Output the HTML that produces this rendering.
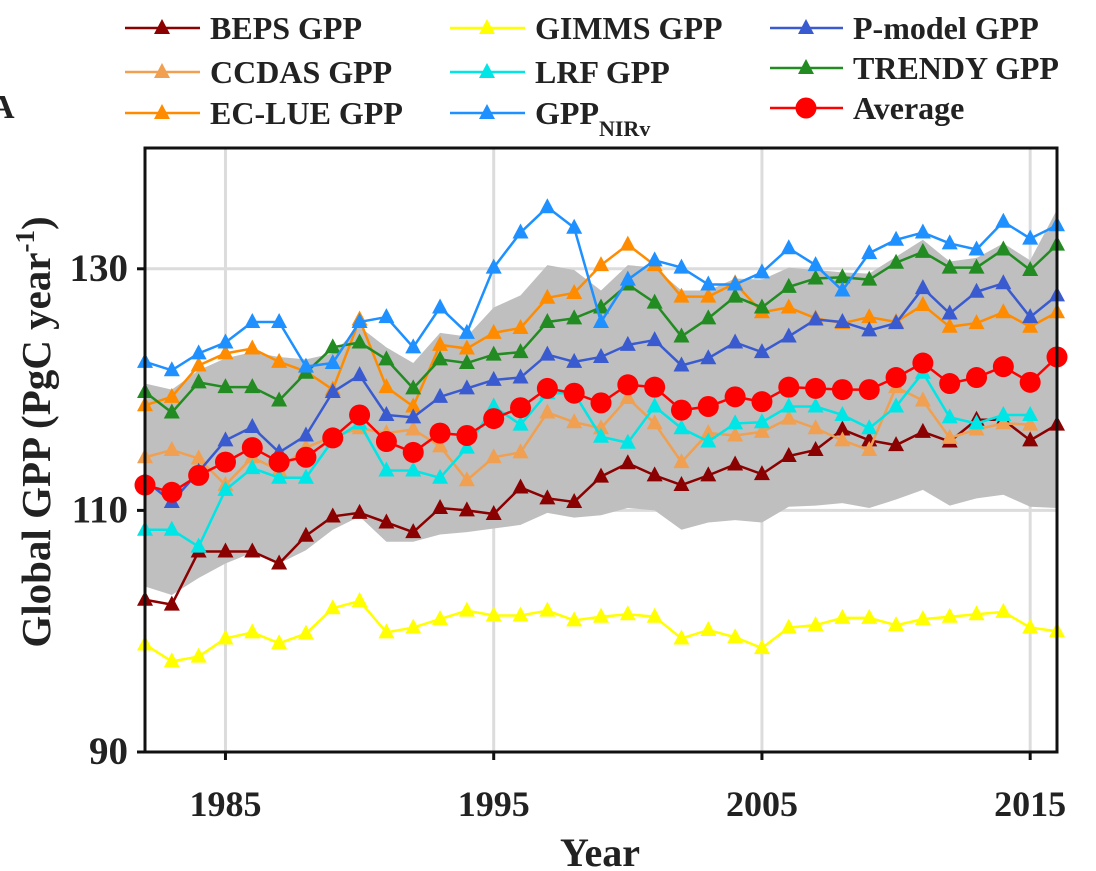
<!DOCTYPE html>
<html><head><meta charset="utf-8"><style>
html,body{margin:0;padding:0;background:#fff;width:1096px;height:871px;overflow:hidden}
svg text{font-family:"Liberation Serif",serif;font-weight:bold;fill:#222}
</style></head><body>
<svg id="chart" width="1096" height="871" xmlns="http://www.w3.org/2000/svg"></svg>
<script>
const years=[];for(let y=1982;y<=2016;y++)years.push(y);
const bandUpper=[120.5,120.0,121.6,122.6,123.1,122.7,122.5,123.0,125.2,123.5,122.2,124.7,124.4,126.8,127.8,130.3,129.9,128.2,130.3,130.1,128.2,128.2,129.2,129.1,130.1,129.9,129.7,129.6,131.0,132.4,130.6,130.9,132.1,130.7,134.9];
const bandLower=[103.7,103.0,104.4,105.6,106.5,105.6,106.7,108.4,109.5,107.4,107.4,108.0,108.2,108.5,108.8,109.8,109.4,109.6,110.2,110.0,108.4,109.0,109.2,109.0,110.3,110.4,110.6,110.2,110.9,111.7,110.4,111.0,111.3,110.3,110.2];
const beps=[102.6,102.2,106.6,106.6,106.6,105.6,107.9,109.5,109.8,109.0,108.2,110.2,110.0,109.7,111.9,111.0,110.7,112.8,113.9,112.9,112.1,112.9,113.8,113.0,114.5,115.0,116.7,115.8,115.4,116.5,115.7,117.5,117.5,115.8,117.1];
const ccdas=[114.4,115.0,114.3,112.1,114.4,113.3,115.2,116.1,116.8,116.4,116.7,115.3,112.5,114.4,114.8,118.1,117.3,116.8,119.3,117.2,114.0,116.4,116.2,116.5,117.6,116.8,115.8,115.0,120.2,119.1,116.0,116.7,117.2,117.1,null];
const eclue=[118.7,119.4,122.0,123.0,123.4,122.3,121.5,120.0,125.8,120.2,118.6,123.7,123.4,124.7,125.1,127.6,128.0,130.3,132.0,130.3,127.7,127.7,128.8,126.4,126.8,125.9,125.5,126.0,125.6,127.0,125.2,125.5,126.4,125.2,126.4];
const gimms=[98.9,97.5,97.9,99.4,99.9,99.0,99.8,101.9,102.5,99.9,100.3,101.0,101.7,101.3,101.3,101.7,100.9,101.2,101.4,101.2,99.4,100.1,99.5,98.6,100.3,100.5,101.1,101.1,100.5,101.0,101.2,101.4,101.6,100.3,100.0];
const lrf=[108.4,108.4,107.0,111.7,113.5,112.7,112.7,115.8,117.2,113.3,113.3,112.7,115.2,118.6,117.1,119.7,119.7,116.1,115.6,118.6,116.8,115.7,117.2,117.3,118.6,118.6,117.9,116.8,118.6,121.4,117.7,117.2,117.9,117.9,null];
const nirv=[122.3,121.6,123.0,123.9,125.6,125.6,121.9,122.2,125.6,126.0,123.5,126.8,124.7,130.1,133.0,135.1,133.4,125.6,129.1,130.7,130.1,128.7,128.7,129.7,131.7,130.3,128.2,131.3,132.4,133.0,132.1,131.6,133.9,132.5,133.6];
const pmodel=[112.5,110.7,113.2,115.8,116.9,114.8,116.2,119.8,121.2,117.9,117.7,119.4,120.1,120.8,121.0,122.9,122.3,122.7,123.7,124.1,122.0,122.6,123.9,123.1,124.4,125.8,125.6,124.9,125.5,128.4,126.3,128.1,128.8,126.0,127.8];
const trendy=[119.8,118.1,120.6,120.2,120.2,119.1,121.4,123.5,123.9,122.5,120.1,122.5,122.2,122.9,123.1,125.6,125.9,126.8,128.7,127.2,124.4,125.9,127.7,126.8,128.5,129.2,129.3,129.1,130.5,131.4,130.1,130.1,131.6,129.9,132.0];
const average=[112.1,111.5,112.9,114.0,115.2,114.0,114.4,116.0,117.9,115.7,114.8,116.4,116.2,117.6,118.5,120.1,119.7,118.9,120.4,120.2,118.3,118.6,119.4,119.0,120.2,120.1,120.0,120.0,121.0,122.2,120.5,121.0,121.9,120.6,122.7];
const yTicks=[90,110,130];
const xTicks=[1985,1995,2005,2015];

const svg=document.getElementById('chart');const NS='http://www.w3.org/2000/svg';
const L=145,R=1057,T=148,B=752;
const X=v=>L+(v-1982)/(2016-1982)*(R-L);
const Y=v=>B-(v-90)/(140-90)*(B-T);
function mk(tag,attrs,parent){const e=document.createElementNS(NS,tag);for(const k in attrs)e.setAttribute(k,attrs[k]);(parent||svg).appendChild(e);return e;}
xTicks.forEach(t=>{const g=mk('line',{x1:X(t),x2:X(t),y1:T,y2:B,stroke:'#dcdcdc','stroke-width':3});

});
yTicks.forEach(t=>{const g=mk('line',{x1:L,x2:R,y1:Y(t),y2:Y(t),stroke:'#dcdcdc','stroke-width':3});

});
let pts=years.map((y,i)=>X(y)+','+Y(bandUpper[i])).concat(years.map((y,i)=>X(y)+','+Y(bandLower[i])).reverse());
const band=mk('polygon',{points:pts.join(' '),fill:'#bfbfbf'});


const series=[
['beps-gpp',beps,'#8b0000'],['gimms-gpp',gimms,'#ffff00'],['ccdas-gpp',ccdas,'#f0a050'],['lrf-gpp',lrf,'#00e5e5'],
['ec-lue-gpp',eclue,'#ff8c00'],['pmodel-gpp',pmodel,'#3a5bd0'],['trendy-gpp',trendy,'#228b22'],['gpp-nirv',nirv,'#1e90ff']];
function tri(g,cx,cy,c){const s=8;return mk('polygon',{points:`${cx},${cy-s-1} ${cx-s},${cy+s-2} ${cx+s},${cy+s-2}`,fill:c},g);}
series.forEach(([name,d,c])=>{const g=mk('g',{});


const p=years.map((y,i)=>d[i]==null?null:X(y)+','+Y(d[i])).filter(v=>v);
mk('polyline',{points:p.join(' '),fill:'none',stroke:c,'stroke-width':2.5},g);
years.forEach((y,i)=>{if(d[i]==null)return;const m=tri(g,X(y),Y(d[i]),c);

});});
{const g=mk('g',{});


mk('polyline',{points:years.map((y,i)=>X(y)+','+Y(average[i])).join(' '),fill:'none',stroke:'#ff0000','stroke-width':2.5},g);
years.forEach((y,i)=>{const m=mk('circle',{cx:X(y),cy:Y(average[i]),r:10.5,fill:'#ff0000'},g);

});}
const box=mk('rect',{x:L,y:T,width:R-L,height:B-T,fill:'none',stroke:'#111','stroke-width':3});


yTicks.forEach(t=>{const tk=mk('line',{x1:L-8,x2:L,y1:Y(t),y2:Y(t),stroke:'#111','stroke-width':3});


const tx=mk('text',{x:L-17,y:Y(t)+12,'text-anchor':'end','font-size':39});tx.textContent=t;

});
xTicks.forEach(t=>{const tk=mk('line',{x1:X(t),x2:X(t),y1:B,y2:B+8,stroke:'#111','stroke-width':3});


const tx=mk('text',{x:X(t),y:816,'text-anchor':'middle','font-size':36});tx.textContent=t;

});
</script>
<svg style="position:absolute;left:0;top:0" width="1096" height="871" xmlns="http://www.w3.org/2000/svg">
<text x="600" y="866" text-anchor="middle" font-size="40">Year</text>
<text transform="translate(50,432) rotate(-90)" text-anchor="middle" font-size="41">Global GPP (PgC year<tspan dy="-16" font-size="27">-1</tspan><tspan dy="16">)</tspan></text>
<text x="-10" y="118" font-size="34">A</text>
<g font-size="32">
<g><line x1="125" x2="200" y1="28" y2="28" stroke="#8b0000" stroke-width="2.5"/><polygon points="162,19 154,34 170,34" fill="#8b0000"/><text x="210" y="39">BEPS GPP</text></g>
<g><line x1="125" x2="200" y1="72" y2="72" stroke="#f0a050" stroke-width="2.5"/><polygon points="162,63 154,78 170,78" fill="#f0a050"/><text x="210" y="83">CCDAS GPP</text></g>
<g><line x1="125" x2="200" y1="113" y2="113" stroke="#ff8c00" stroke-width="2.5"/><polygon points="162,104 154,119 170,119" fill="#ff8c00"/><text x="210" y="124">EC-LUE GPP</text></g>
<g><line x1="450" x2="525" y1="28" y2="28" stroke="#ffff00" stroke-width="2.5"/><polygon points="487,19 479,34 495,34" fill="#ffff00"/><text x="535" y="39">GIMMS GPP</text></g>
<g><line x1="450" x2="525" y1="72" y2="72" stroke="#00e5e5" stroke-width="2.5"/><polygon points="487,63 479,78 495,78" fill="#00e5e5"/><text x="535" y="83">LRF GPP</text></g>
<g><line x1="450" x2="525" y1="113" y2="113" stroke="#1e90ff" stroke-width="2.5"/><polygon points="487,104 479,119 495,119" fill="#1e90ff"/><text x="535" y="124">GPP<tspan dy="12" font-size="22">NIRv</tspan></text></g>
<g><line x1="770" x2="843" y1="28" y2="28" stroke="#3a5bd0" stroke-width="2.5"/><polygon points="806,19 798,34 814,34" fill="#3a5bd0"/><text x="853" y="39">P-model GPP</text></g>
<g><line x1="770" x2="843" y1="68" y2="68" stroke="#228b22" stroke-width="2.5"/><polygon points="806,59 798,74 814,74" fill="#228b22"/><text x="853" y="79">TRENDY GPP</text></g>
<g><line x1="770" x2="843" y1="108" y2="108" stroke="#ff0000" stroke-width="2.5"/><circle cx="806" cy="108" r="10.5" fill="#ff0000"/><text x="853" y="119">Average</text></g>
</g>
</svg>
</body></html>
